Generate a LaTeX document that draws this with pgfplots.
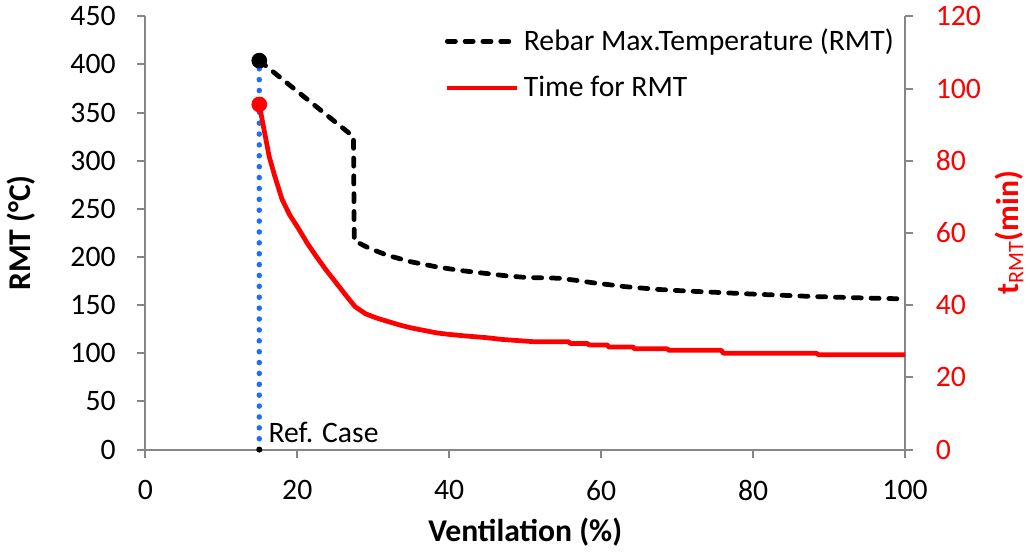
\documentclass[border=0pt]{standalone}
\usepackage{fontspec}
\setmainfont{Carlito}
\usepackage{pgfplots}
\pgfplotsset{compat=1.18}
\definecolor{axisgray}{RGB}{134,134,134}
\definecolor{refblue}{RGB}{30,110,250}
\begin{document}
\begin{tikzpicture}[font=\fontsize{15}{18}\selectfont]
\pgfplotsset{
  common/.style={
    scale only axis, width=384pt, height=219pt,
    xmin=0, xmax=100, clip=false,
    tick align=outside, major tick length=4pt,
    tick style={axisgray, line width=1pt},
    axis line style={axisgray, line width=1pt, -},
    /pgf/number format/assume math mode=true,
    tick label style={font=\fontsize{15}{18}\selectfont},
  }
}
\begin{axis}[common,
  ymin=0, ymax=450,
  axis x line*=bottom, axis y line*=left,
  xtick={0,20,...,100}, ytick={0,50,...,450},
  xticklabel style={yshift=-8pt},
  yticklabel style={xshift=-7.5pt},
  xlabel={\bfseries Ventilation (\%)},
  ylabel={\bfseries RMT (°C)},
  every axis x label/.style={at={(axis description cs:0.5,-0.19)}, anchor=center, font=\fontsize{16}{19}\selectfont},
  every axis y label/.style={at={(axis description cs:-0.164,0.5)}, anchor=center, rotate=90, font=\fontsize{16}{19}\selectfont},
]
\addplot[refblue, line width=2.8pt, line cap=round, dash pattern=on 0pt off 5.5pt] coordinates {(15,0) (15,404)};
\addplot[black, line width=2.4pt, line cap=round, line join=round, dash pattern=on 4.1pt off 4.9pt] coordinates {
(15,404) (27.4,325) (27.5,217) (29.5,209) (31.9,201.7) (35,195) (38.4,189.7) (41.5,186) (44.9,182.9)
(47.5,180.5) (50.1,178.8) (54.4,178) (56.5,176) (58.9,173.3) (63.2,169.2) (67.4,166.4) (71,164.8)
(74.9,163.4) (80,161.5) (87.9,159) (94,157.6) (100,156.5)};
\addplot[only marks, mark=*, mark size=3.75pt, black] coordinates {(15,404)};
\addplot[only marks, mark=*, mark size=1.3pt, black] coordinates {(15,0)};
\node[anchor=base west, inner sep=0pt] at (axis cs:15,0) [xshift=4.5pt, yshift=3.7pt] {Ref. Case};
\end{axis}
\begin{axis}[common,
  ymin=0, ymax=120,
  axis x line=none, axis y line*=right,
  ytick={0,20,...,120},
  yticklabel style={red, xshift=8pt},
  ylabel={\bfseries t\textsubscript{\mdseries RMT}(min)},
  every axis y label/.style={at={(axis description cs:1.137,0.5)}, anchor=center, rotate=90, red, font=\fontsize{16}{19}\selectfont},
  legend style={at={(axis description cs:1.0,0.99)}, anchor=north east, draw=none, fill=none,
    font=\fontsize{15}{18}\selectfont, row sep=7.5pt,
    nodes={inner xsep=2.5pt}},
  legend cell align=left,
  legend image code/.code={\draw[#1] (0pt,0pt) -- (35pt,0pt);},
]
\addlegendimage{black, line width=2.4pt, line cap=round, dash pattern=on 4.1pt off 4.9pt}
\addlegendentry{Rebar Max.Temperature (RMT)}
\addplot[red, line width=2.4pt, line join=round] coordinates {
(15,95.6) (15.5,90.0) (16.3,81.2) (17.0,76.0) (18.0,69.3) (19.0,65.0) (20.2,61.1) (21.3,57.2)
(22.4,53.8) (23.7,50.0) (25.0,46.5) (26.3,43.0) (27.6,39.6) (29.0,37.6) (30.5,36.4) (31.9,35.5)
(33.5,34.5) (35.0,33.7) (36.7,33.0) (38.4,32.3) (40.0,31.9) (42.0,31.5) (44.9,31.0) (47.0,30.5)
(51.0,29.9) (55.7,29.9) (55.9,29.4) (58.2,29.4) (58.4,29.0) (60.8,29.0) (61.0,28.4) (64.2,28.4)
(64.4,27.9) (68.7,27.9) (68.9,27.5) (75.8,27.5) (76.1,26.7) (88.3,26.7) (88.6,26.3) (100,26.3)};
\addlegendentry{Time for RMT}
\addplot[only marks, mark=*, mark size=3.75pt, red, forget plot] coordinates {(15,95.6)};
\end{axis}
\end{tikzpicture}
\end{document}
